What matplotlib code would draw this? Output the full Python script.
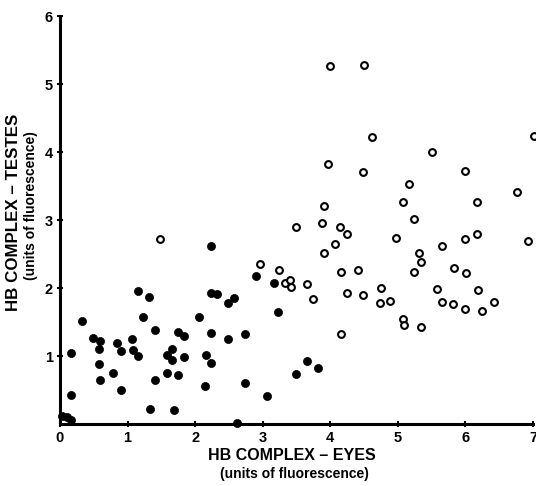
import matplotlib
matplotlib.use("Agg")
import matplotlib.pyplot as plt

# Filled circles (lower cluster)
filled_x = [0.03, 0.10, 0.17, 0.16, 0.17, 0.33, 0.49, 0.59, 0.58, 0.58, 0.59,
            0.79, 0.84, 0.90, 0.90, 1.07, 1.08, 1.16, 1.16, 1.23, 1.32, 1.41, 1.41,
            1.33, 1.58, 1.58, 1.66, 1.66, 1.74, 1.68, 1.75, 1.83, 1.83, 2.06, 2.16,
            2.24, 2.15, 2.24, 2.24, 2.33, 2.23, 2.48, 2.58, 2.49, 2.74, 2.74, 2.62,
            2.90, 3.07, 3.16, 3.23, 3.49, 3.66, 3.82]
filled_y = [0.12, 0.10, 0.06, 0.43, 1.04, 1.52, 1.26, 1.22, 1.11, 0.88, 0.64,
            0.75, 1.19, 1.08, 0.50, 1.25, 1.09, 1.00, 1.96, 1.57, 1.87, 1.38, 0.65,
            0.22, 1.01, 0.75, 1.11, 0.94, 0.72, 0.21, 1.35, 1.30, 0.99, 1.57, 1.01,
            0.89, 0.56, 1.34, 1.92, 1.91, 2.62, 1.78, 1.86, 1.25, 1.33, 0.61, 0.02,
            2.18, 0.41, 2.08, 1.64, 0.74, 0.93, 0.83]

# Open circles (upper cluster)
open_x = [1.48, 2.96, 3.24, 3.33, 3.40, 3.42, 3.66, 3.49, 3.74, 3.88, 3.90, 3.91,
          3.96, 3.99, 4.07, 4.15, 4.24, 4.16, 4.16, 4.25, 4.41, 4.49, 4.49, 4.50,
          4.62, 4.75, 4.73, 4.89, 4.97, 5.08, 5.08, 5.09, 5.16, 5.24, 5.24, 5.32,
          5.34, 5.34, 5.50, 5.58, 5.66, 5.66, 5.82, 5.83, 6.00, 6.00, 6.01, 6.00,
          6.17, 6.17, 6.18, 6.24, 6.43, 6.76, 6.93, 7.01]
open_y = [2.72, 2.35, 2.26, 2.07, 2.12, 2.02, 2.06, 2.89, 1.84, 2.96, 2.52, 3.20,
          3.82, 5.27, 2.64, 2.90, 2.79, 2.23, 1.32, 1.93, 2.27, 1.90, 3.71, 5.28,
          4.22, 2.00, 1.78, 1.81, 2.73, 3.27, 1.54, 1.46, 3.53, 3.01, 2.24, 2.52,
          2.38, 1.43, 4.00, 1.99, 2.62, 1.80, 1.76, 2.29, 3.72, 2.72, 2.22, 1.69,
          3.26, 2.79, 1.97, 1.66, 1.80, 3.41, 2.69, 4.24]

x_ticks = [0, 1, 2, 3, 4, 5, 6, 7]
y_ticks = [1, 2, 3, 4, 5, 6]

fig = plt.figure(figsize=(5.36, 4.86), dpi=100)
ax = fig.add_axes([60/536, 1-424/486, 473/536, 408/486])

ax.scatter(filled_x, filled_y, s=34, c="black", edgecolors="black", linewidths=0.5,
           clip_on=False, zorder=3)
ax.scatter(open_x, open_y, s=24, facecolors="white", edgecolors="black",
           linewidths=1.5, clip_on=False, zorder=3)

ax.set_xlim(0, 7)
ax.set_ylim(0, 6)
ax.set_xticks(x_ticks)
ax.set_yticks(y_ticks)
ax.set_xticklabels([str(t) for t in x_ticks])
ax.set_yticklabels([str(t) for t in y_ticks])
for s in ["top", "right"]:
    ax.spines[s].set_visible(False)
for s in ["left", "bottom"]:
    ax.spines[s].set_linewidth(2.2)
    ax.spines[s].set_color("black")
ax.tick_params(axis="both", which="major", length=4, width=1.5, direction="inout",
               labelsize=10.5, pad=3, colors="black")
for lab in ax.get_xticklabels() + ax.get_yticklabels():
    lab.set_fontweight("bold")
    lab.set_family("Liberation Sans")

fig.text(292/536, 1-455/486, "HB COMPLEX – EYES", ha="center", va="center",
         fontsize=11.5, fontweight="bold", family="Liberation Sans")
fig.text(294/536, 1-474/486, "(units of fluorescence)", ha="center", va="center",
         fontsize=10, fontweight="bold", family="Liberation Sans")
fig.text(14/536, 1-212/486, "HB COMPLEX – TESTES", ha="center", va="center",
         rotation=90, fontsize=12.2, fontweight="bold", family="Liberation Sans")
fig.text(31/536, 1-206/486, "(units of fluorescence)", ha="center", va="center",
         rotation=90, fontsize=10, fontweight="bold", family="Liberation Sans")

fig.savefig("out.png", dpi=100)
